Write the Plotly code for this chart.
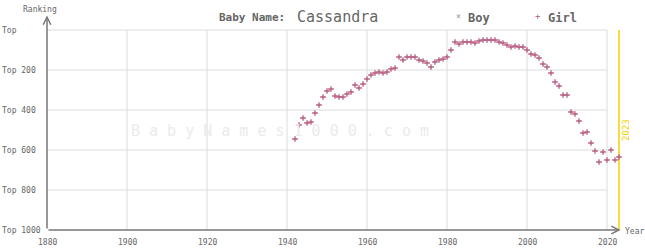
import plotly.graph_objects as go

# ---- data ----
girl_years = list(range(1942, 2024))
girl_ranks = [545, 475, 440, 465, 460, 415, 375, 335, 305, 295,
              330, 335, 335, 320, 310, 275, 290, 270, 245, 225,
              215, 210, 215, 210, 195, 190, 135, 150, 135, 135,
              135, 150, 155, 165, 185, 160, 150, 145, 135, 100,
              60, 70, 60, 60, 60, 65, 55, 50, 50, 50,
              50, 60, 65, 75, 85, 80, 85, 85, 100, 120,
              125, 140, 170, 185, 215, 260, 280, 325, 325, 410,
              420, 455, 515, 510, 565, 605, 660, 610, 650, 600,
              650, 635]
boy_years = []
boy_ranks = []

x_ticks = [1880, 1900, 1920, 1940, 1960, 1980, 2000, 2020]
x_tick_labels = ["1880", "1900", "1920", "1940", "1960", "1980", "2000", "2020"]
y_ticks = [0, 200, 400, 600, 800, 1000]
y_tick_labels = ["Top", "Top 200", "Top 400", "Top 600", "Top 800", "Top 1000"]
current_year = 2023
name = "Cassandra"

# ---- style ----
FONT = "DejaVu Sans Mono"
GRAY = "#666666"
GRID = "#dcdcdc"
AXIS = "#777777"
GIRL = "#b85a80"
BOY = "#8a8aaa"
YEL = "#f2d000"

W, H = 645, 250
L, R, T, B = 47, 18, 15, 20
X0, X1 = 1880, 2025
YTOP, YBOT = -75, 1000
pw = W - L - R
ph = H - T - B


def px_x(p):  # pixel -> paper x
    return (p - L) / pw


def px_y(p):  # pixel -> paper y
    return (H - B - p) / ph


fig = go.Figure()
fig.add_trace(go.Scatter(x=boy_years, y=boy_ranks, mode="markers", name="Boy",
                         marker=dict(symbol="x-thin", size=4, line=dict(width=1.2, color=BOY)),
                         showlegend=False, hoverinfo="skip"))
fig.add_trace(go.Scatter(x=girl_years, y=girl_ranks, mode="markers", name="Girl",
                         marker=dict(symbol="cross-thin", size=4, line=dict(width=1.3, color=GIRL)),
                         showlegend=False))

shapes = []
# horizontal gridlines
for v in y_ticks[:-1]:
    shapes.append(dict(type="line", xref="x", yref="y", x0=x_ticks[0], x1=x_ticks[-1], y0=v, y1=v,
                       line=dict(color=GRID, width=1), layer="below"))
# vertical gridlines
for v in x_ticks[1:]:
    shapes.append(dict(type="line", xref="x", yref="y", x0=v, x1=v, y0=y_ticks[0], y1=y_ticks[-1],
                       line=dict(color=GRID, width=1), layer="below"))
# current year line
shapes.append(dict(type="line", xref="x", yref="y", x0=current_year, x1=current_year,
                   y0=y_ticks[0], y1=y_ticks[-1], line=dict(color=YEL, width=1.5), layer="below"))
# small ticks
shapes.append(dict(type="line", xref="x", yref="y", x0=X0 - 1, x1=X0, y0=1000, y1=1000,
                   line=dict(color=AXIS, width=1.5)))
shapes.append(dict(type="line", xref="x", yref="y", x0=X0, x1=X0, y0=1000, y1=1025,
                   line=dict(color=AXIS, width=1.5)))

ann = []
# axes with arrows
ann.append(dict(x=X0, y=YTOP + 2, ax=X0, ay=1000, xref="x", yref="y", axref="x", ayref="y",
                text="", showarrow=True, arrowhead=5, arrowsize=1, arrowwidth=1.5, arrowcolor=AXIS))
ann.append(dict(x=2023.4, y=1000, ax=X0, ay=1000, xref="x", yref="y", axref="x", ayref="y",
                text="", showarrow=True, arrowhead=5, arrowsize=1, arrowwidth=1.5, arrowcolor=AXIS))
# y tick labels
for v, t in zip(y_ticks, y_tick_labels):
    ann.append(dict(x=px_x(0), y=v, xref="paper", yref="y", text=t, showarrow=False,
                    xanchor="left", yanchor="middle", font=dict(family=FONT, size=8, color=GRAY)))
# x tick labels
for v, t in zip(x_ticks, x_tick_labels):
    ann.append(dict(x=v, y=px_y(243), xref="x", yref="paper", text=t, showarrow=False,
                    xanchor="center", yanchor="middle", font=dict(family=FONT, size=8, color=GRAY)))
# axis titles
ann.append(dict(x=px_x(40), y=px_y(9), xref="paper", yref="paper", text="Ranking", showarrow=False,
                xanchor="center", yanchor="middle", font=dict(family=FONT, size=8, color=GRAY)))
ann.append(dict(x=px_x(623), y=px_y(231), xref="paper", yref="paper", text="Year", showarrow=False,
                xanchor="left", yanchor="middle", font=dict(family=FONT, size=8, color=GRAY)))
# title
ann.append(dict(x=px_x(287), y=px_y(18), xref="paper", yref="paper", text="<b>Baby Name:</b>",
                showarrow=False, xanchor="right", yanchor="middle",
                font=dict(family=FONT, size=11, color=GRAY)))
ann.append(dict(x=px_x(295), y=px_y(17), xref="paper", yref="paper", text=name,
                showarrow=False, xanchor="left", yanchor="middle",
                font=dict(family=FONT, size=15, color=GRAY)))
# legend
ann.append(dict(x=px_x(458), y=px_y(17), xref="paper", yref="paper", text="×", showarrow=False,
                xanchor="center", yanchor="middle", font=dict(family=FONT, size=8, color=BOY)))
ann.append(dict(x=px_x(466), y=px_y(18), xref="paper", yref="paper", text="<b>Boy</b>", showarrow=False,
                xanchor="left", yanchor="middle", font=dict(family=FONT, size=12, color=GRAY)))
ann.append(dict(x=px_x(538), y=px_y(16), xref="paper", yref="paper", text="+", showarrow=False,
                xanchor="center", yanchor="middle", font=dict(family=FONT, size=9, color=GIRL)))
ann.append(dict(x=px_x(546), y=px_y(18), xref="paper", yref="paper", text="<b>Girl</b>", showarrow=False,
                xanchor="left", yanchor="middle", font=dict(family=FONT, size=12, color=GRAY)))
# current year label
ann.append(dict(x=px_x(626), y=500, xref="paper", yref="y", text=str(current_year), showarrow=False,
                textangle=-90, xanchor="center", yanchor="middle",
                font=dict(family=FONT, size=9, color=YEL)))
# watermark
ann.append(dict(x=px_x(280), y=505, xref="paper", yref="y", text=" ".join("BabyNames1000.com"),
                showarrow=False, xanchor="center", yanchor="middle",
                font=dict(family=FONT, size=15, color="#ebebeb")))

fig.update_layout(
    width=W, height=H, autosize=False,
    margin=dict(l=L, r=R, t=T, b=B, pad=0),
    paper_bgcolor="white", plot_bgcolor="white",
    shapes=shapes, annotations=ann, showlegend=False,
    xaxis=dict(range=[X0, X1], showgrid=False, zeroline=False, showline=False,
               showticklabels=False, ticks="", fixedrange=True),
    yaxis=dict(range=[YBOT, YTOP], showgrid=False, zeroline=False, showline=False,
               showticklabels=False, ticks="", fixedrange=True),
)

fig.write_html("out.html")
